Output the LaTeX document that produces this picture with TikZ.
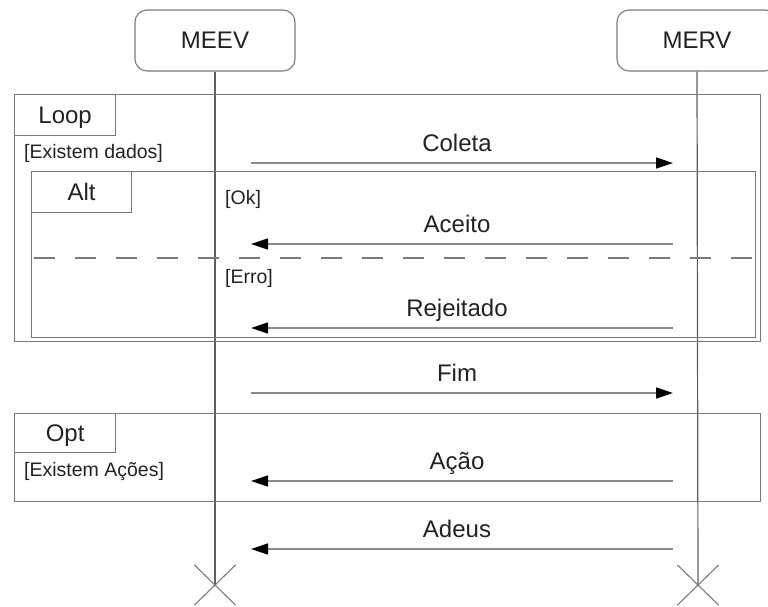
\documentclass[tikz,border=0pt]{standalone}
\usepackage{fontspec}
\setmainfont{Liberation Sans}
\usetikzlibrary{arrows.meta,shapes.misc}
\definecolor{inkcol}{HTML}{222222}
\definecolor{lifegray}{HTML}{5E5E5E}
\definecolor{framegray}{HTML}{7A7A7A}
\definecolor{msggray}{HTML}{8A8A8A}
\begin{document}
\begin{tikzpicture}[x=1pt,y=-1pt,
  every node/.style={text=inkcol},
  participant/.style={draw=framegray, line width=1.1pt, rounded corners=12pt,
    minimum width=160pt, minimum height=61pt, inner sep=0pt,
    font=\fontsize{24}{28}\selectfont},
  lifeline/.style={draw=lifegray, line width=1.2pt},
  xmark/.style={cross out, draw=framegray, line width=1.1pt, inner sep=0pt,
    minimum width=40pt, minimum height=39pt},
  frame/.style={draw=framegray, line width=1.3pt, inner sep=0pt, anchor=north west},
  framelabel/.style={draw=framegray, line width=1.3pt, inner sep=0pt, anchor=north west,
    minimum width=101pt, minimum height=41pt, text height=17pt, text depth=0pt,
    font=\fontsize{24}{28}\selectfont},
  guard/.style={anchor=base west, inner sep=0pt, font=\fontsize{19.5}{23}\selectfont},
  msg/.style={draw=msggray, line width=1.5pt,
    -{Triangle[length=17pt,width=11pt,color=black]}},
  msglabel/.style={anchor=base, inner sep=0pt, yshift=12pt, xshift=-5pt,
    font=\fontsize{24}{28}\selectfont},
  altsep/.style={draw=framegray, line width=1.3pt, dash pattern=on 21pt off 20pt}
]
\useasboundingbox (0,0) rectangle (768,606);

% participants and their lifelines
\node[participant] (meev) at (215,40.5) {MEEV};
\node[participant] (merv) at (697,40.5) {MERV};
\coordinate (meevEnd) at (215,585);
\coordinate (mervEnd) at (698,585);
\draw[lifeline] (meev.south) -- (meevEnd);
\draw[lifeline] (merv.south) -- (mervEnd);
\node[xmark] (meevX) at (meevEnd) {};
\node[xmark] (mervX) at (mervEnd) {};

% loop fragment
\node[frame, minimum width=746pt, minimum height=247pt] (loop) at (14,94) {};
\node[framelabel] (loopTag) at (loop.north west) {Loop};
\node[guard] (loopGuard) at (24,158) {[Existem dados]};

\coordinate (coletaFrom) at (251,163);
\coordinate (coletaTo) at (673,163);
\draw[msg] (coletaFrom) -- (coletaTo) node[msglabel, midway] (coletaLbl) {Coleta};

% alt fragment inside the loop
\node[frame, minimum width=724pt, minimum height=166pt] (alt) at (31,171) {};
\node[framelabel, minimum width=100pt] (altTag) at (alt.north west) {Alt};
\node[guard] (okGuard) at (225,204) {[Ok]};
\coordinate (sepFrom) at (34,258);
\coordinate (sepTo) at (755,258);
\draw[altsep] (sepFrom) -- (sepTo);
\node[guard] (erroGuard) at (225,283) {[Erro]};

\coordinate (aceitoFrom) at (673,244);
\coordinate (aceitoTo) at (251,244);
\draw[msg] (aceitoFrom) -- (aceitoTo) node[msglabel, midway] (aceitoLbl) {Aceito};

\coordinate (rejFrom) at (673,328);
\coordinate (rejTo) at (251,328);
\draw[msg] (rejFrom) -- (rejTo) node[msglabel, midway] (rejLbl) {Rejeitado};

% end of data
\coordinate (fimFrom) at (251,393);
\coordinate (fimTo) at (673,393);
\draw[msg] (fimFrom) -- (fimTo) node[msglabel, midway] (fimLbl) {Fim};

% opt fragment
\node[frame, minimum width=746pt, minimum height=88pt] (opt) at (14,413) {};
\node[framelabel, minimum height=39pt] (optTag) at (opt.north west) {Opt};
\node[guard] (optGuard) at (24,476) {[Existem Ações]};

\coordinate (acaoFrom) at (673,481);
\coordinate (acaoTo) at (251,481);
\draw[msg] (acaoFrom) -- (acaoTo) node[msglabel, midway] (acaoLbl) {Ação};

% farewell
\coordinate (adeusFrom) at (673,549);
\coordinate (adeusTo) at (251,549);
\draw[msg] (adeusFrom) -- (adeusTo) node[msglabel, midway] (adeusLbl) {Adeus};
\end{tikzpicture}
\end{document}
